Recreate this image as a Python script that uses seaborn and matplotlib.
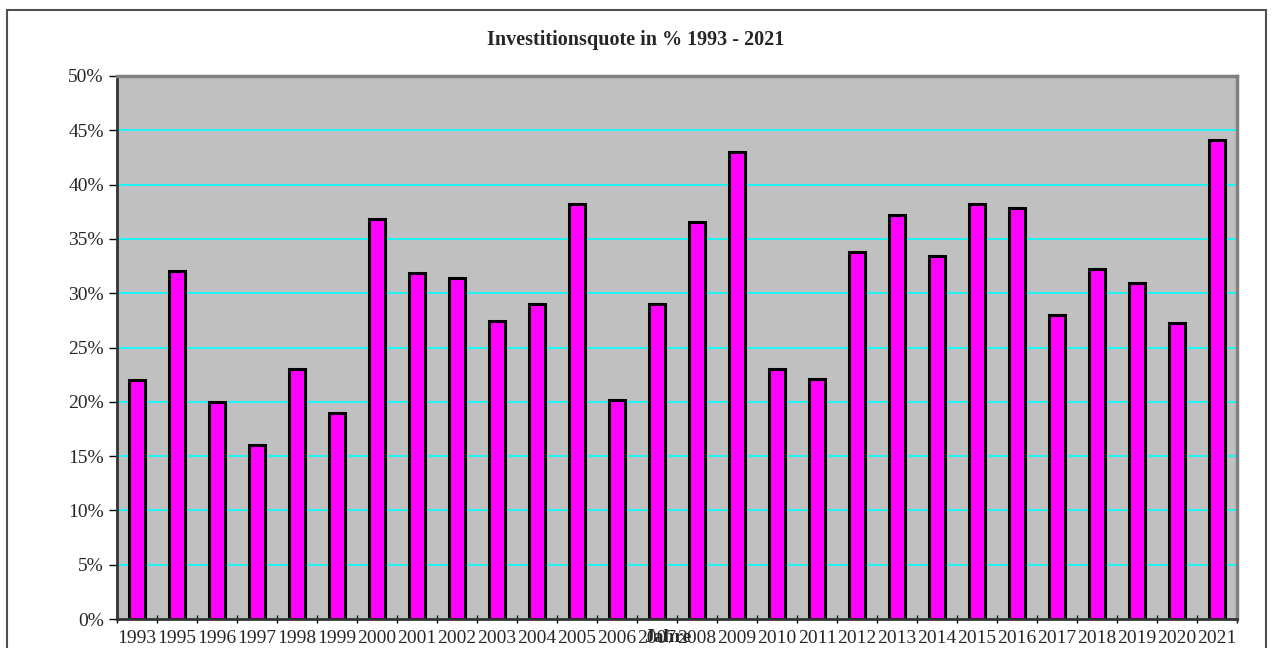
import matplotlib
matplotlib.use("Agg")
import matplotlib.pyplot as plt
import matplotlib.patches as mpatches
from matplotlib.ticker import FixedLocator, PercentFormatter
import seaborn as sns
import pandas as pd

years = ["1993", "1995", "1996", "1997", "1998", "1999", "2000", "2001", "2002", "2003",
         "2004", "2005", "2006", "2007", "2008", "2009", "2010", "2011", "2012", "2013",
         "2014", "2015", "2016", "2017", "2018", "2019", "2020", "2021"]
quote = [22.0, 32.0, 20.0, 16.0, 23.0, 19.0, 36.8, 31.9, 31.4, 27.4,
         29.0, 38.2, 20.2, 29.0, 36.6, 43.0, 23.0, 22.1, 33.8, 37.2,
         33.4, 38.2, 37.8, 28.0, 32.2, 30.9, 27.3, 44.1]

df = pd.DataFrame({"Jahr": years, "Quote": quote})

sns.set_style("white")
plt.rcParams["font.family"] = ["Liberation Serif", "DejaVu Serif"]

fig = plt.figure(figsize=(12.72, 6.48), dpi=100)
ax = fig.add_axes([117 / 1272, 29 / 648, 1120 / 1272, 543 / 648])

sns.barplot(data=df, x="Jahr", y="Quote", color="#ff00ff", saturation=1,
            edgecolor="black", linewidth=2.2, width=0.4, ax=ax)

ax.set_facecolor("#c0c0c0")
ax.set_ylim(0, 50)
ax.set_xlim(-0.5, len(years) - 0.5)
ax.set_yticks(range(0, 51, 5))
ax.yaxis.set_major_formatter(PercentFormatter(decimals=0))
ax.yaxis.grid(True, color="#00ffff", linewidth=1.2)
ax.set_axisbelow(True)

ax.xaxis.set_minor_locator(FixedLocator([i - 0.5 for i in range(len(years) + 1)]))
ax.tick_params(axis="x", which="major", length=0, pad=8, labelsize=14, bottom=True)
ax.tick_params(axis="x", which="minor", length=6, width=1, direction="inout",
               color="black", bottom=True)
ax.tick_params(axis="y", length=6, width=1, direction="out", color="black",
               labelsize=14, left=True)

for s in ["top", "right"]:
    ax.spines[s].set_color("#808080")
    ax.spines[s].set_linewidth(2.5)
for s in ["left", "bottom"]:
    ax.spines[s].set_color("#333333")
    ax.spines[s].set_linewidth(2)

ax.set_ylabel("")
ax.set_xlabel("Jahre", fontsize=14, fontweight="bold")
ax.xaxis.set_label_coords(0.492, -0.018)

fig.text(0.5, 1 - 40 / 648, "Investitionsquote in % 1993 - 2021",
         ha="center", va="center", fontsize=14.5, fontweight="bold")

# Rahmen ums Diagramm
fig.patches.append(mpatches.Rectangle((7 / 1272, -0.02), 1259 / 1272, 1.02 - 10 / 648,
                                      transform=fig.transFigure, fill=False,
                                      edgecolor="#505050", linewidth=1.5))

fig.savefig("out.png", dpi=100)
